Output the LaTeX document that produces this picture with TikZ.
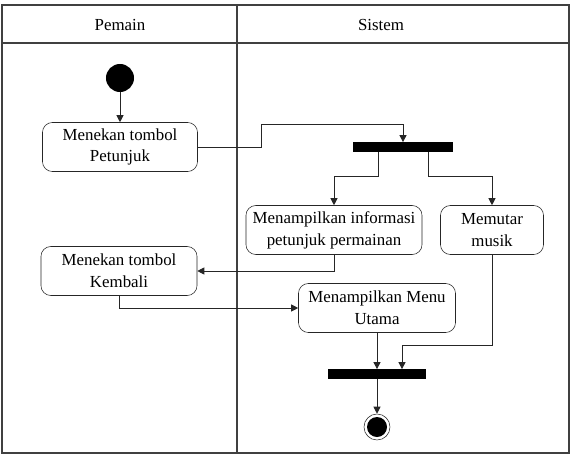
\documentclass[tikz,border=0pt]{standalone}
\usepackage{fontspec}
\setmainfont{Liberation Serif}
\usetikzlibrary{arrows.meta}
\definecolor{lane}{HTML}{404040}

\begin{document}
\begin{tikzpicture}[
  x=0.025cm, y=0.025cm,
  every node/.style={font=\fontsize{12}{15.5}\selectfont},
  act/.style={draw=black!85, rounded corners=7pt, align=center, inner sep=0pt},
  bar/.style={fill=black, draw=none, minimum height=0.23cm, inner sep=0pt},
  arrow/.style={-{Triangle[length=5pt,width=5pt]}, black!85, line width=0.6pt}
]
\useasboundingbox (0,0) rectangle (573,456);

% Swimlanes
\draw[lane, line width=0.8pt] (2,3) rectangle (569,451);
\draw[lane, line width=0.8pt] (2,413) -- (569,413);
\draw[lane, line width=0.8pt] (237,3) -- (237,451);
\node (hpemain) at (120,431) {Pemain};
\node (hsistem) at (381,431) {Sistem};

% Start / end
\node[circle, fill=black, minimum size=0.7cm, inner sep=0pt] (start) at (120,378) {};
\node[circle, draw=black!85, minimum size=0.65cm, inner sep=0pt] (end) at (377,29) {};
\node[circle, fill=black, minimum size=0.5cm, inner sep=0pt] (endin) at (377,29) {};

% Activities
\node[act, minimum width=3.875cm, minimum height=1.225cm] (act1) at (120,309) {Menekan tombol\\Petunjuk};
\node[act, minimum width=4.4cm, minimum height=1.225cm] (act2) at (334,226) {Menampilkan informasi\\petunjuk permainan};
\node[act, minimum width=2.575cm, minimum height=1.225cm] (act3) at (492,226) {Memutar\\musik};
\node[act, minimum width=3.9cm, minimum height=1.225cm] (act4) at (119,185) {Menekan tombol\\Kembali};
\node[act, minimum width=3.925cm, minimum height=1.225cm] (act5) at (377,148) {Menampilkan Menu\\Utama};

% Fork / join
\node[bar, minimum width=2.475cm] (fork) at (403,309) {};
\node[bar, minimum width=2.425cm] (join) at (377,82) {};

% Bends
\coordinate (c1) at (261,332);
\coordinate (f1) at (378,280);
\coordinate (f2) at (428,280);
\coordinate (m3) at (402,111);

% Arrows
\draw[arrow] (start) -- (act1);
\draw[arrow] (act1.east) -| (c1) -| (fork.north);
\draw[arrow] (f1 |- fork.south) -- (f1) -| (act2.north);
\draw[arrow] (f2 |- fork.south) -- (f2) -| (act3.north);
\draw[arrow] (act2.south) |- (act4.east);
\draw[arrow] (act4.south) |- (act5.west);
\draw[arrow] (act5.south) -- (act5.south |- join.north);
\draw[arrow] (act3.south) |- (m3) -- (m3 |- join.north);
\draw[arrow] (join.south) -- (end.north);

\end{tikzpicture}
\end{document}
